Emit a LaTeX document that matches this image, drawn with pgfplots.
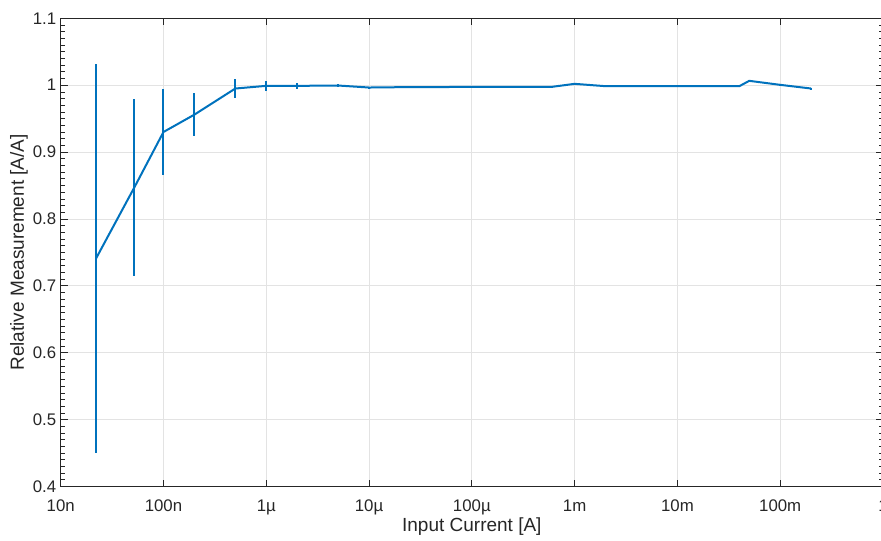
\documentclass[border=0pt]{standalone}
\usepackage{pgfplots}
\pgfplotsset{compat=1.18}
\usepackage{fontspec}
\setmainfont{Liberation Sans}
\definecolor{mblue}{rgb}{0,0.447,0.741}
\definecolor{axgray}{rgb}{0.15,0.15,0.15}

% Measured ratio vs. input current, with 1-sigma spread
\pgfplotstableread{
x        y        e
22e-9    0.7405   0.2905
52e-9    0.847    0.132
100e-9   0.930    0.065
200e-9   0.956    0.032
500e-9   0.995    0.014
1e-6     0.999    0.007
2e-6     0.999    0.004
5e-6     0.9995   0.002
10e-6    0.9965   0.001
20e-6    0.997    0.0005
50e-6    0.9972   0.0005
100e-6   0.9975   0.0005
200e-6   0.9975   0.0005
600e-6   0.9975   0.0005
1e-3     1.002    0.0005
2e-3     0.9985   0.0005
5e-3     0.9985   0.0005
10e-3    0.9985   0.0005
20e-3    0.9985   0.0005
40e-3    0.9985   0.0005
50e-3    1.0065   0.0005
100e-3   1.0005   0.0005
200e-3   0.995    0.0005
}\meas

\begin{document}
\begin{tikzpicture}
\begin{axis}[
  scale only axis,
  width=822.3pt, height=468.2pt,
  xmode=log, log basis x=10,
  xmin=1e-8, xmax=1,
  ymin=0.4, ymax=1.1,
  xtick={1e-8,1e-7,1e-6,1e-5,1e-4,1e-3,1e-2,1e-1,1},
  xticklabels={10n,100n,1µ,10µ,100µ,1m,10m,100m,1},
  ytick={0.4,0.5,0.6,0.7,0.8,0.9,1,1.1},
  yticklabels={0.4,0.5,0.6,0.7,0.8,0.9,1,1.1},
  minor ytick={0.41,0.42,...,1.095},
  tick align=inside,
  major tick length=7pt,
  minor tick length=4pt,
  every tick/.style={axgray, line width=0.7pt},
  axis line style={axgray, line width=0.7pt},
  grid=both,
  major grid style={gray!22, line width=0.7pt},
  minor x grid style={gray!30, dotted, line width=0.6pt},
  minor y grid style={draw=none},
  tick label style={font=\fontsize{16.8}{19}\selectfont, text=axgray},
  label style={font=\fontsize{19}{22}\selectfont, text=axgray},
  xticklabel style={yshift=-10pt},
  yticklabel style={xshift=-1pt},
  /pgf/number format/assume math mode=true,
  xlabel={Input Current [A]},
  ylabel={Relative Measurement [A/A]},
  xlabel style={yshift=4pt},
  ylabel style={yshift=-2pt},
]
\addplot[mblue, line width=2pt, no marks,
  error bars/.cd, y dir=both, y explicit, error mark=none,
  error bar style={mblue, line width=2pt}]
  table[x=x, y=y, y error=e] {\meas};
\end{axis}
\pgfresetboundingbox
\useasboundingbox ([xshift=-60.7pt, yshift=-53.5pt]current axis.south west)
  rectangle ([xshift=-2pt, yshift=18.3pt]current axis.north east);
\end{tikzpicture}
\end{document}
